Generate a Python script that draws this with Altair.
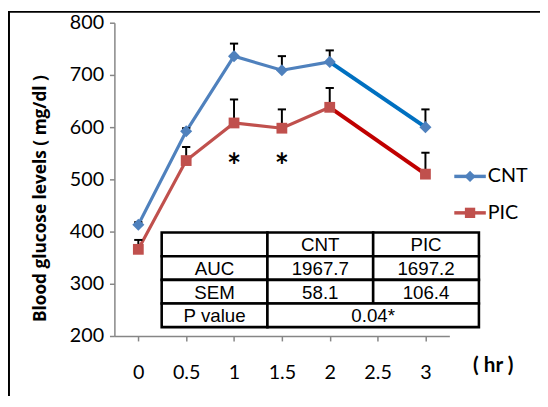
import altair as alt
import pandas as pd

# ---- data ----
hours = [0, 0.5, 1, 1.5, 2, 3]
cnt_mean = [413, 592, 736, 709, 725, 600]
cnt_upper = [418, 598, 760, 736, 747, 634]
pic_mean = [366, 536, 608, 598, 638, 510]
pic_upper = [384, 562, 653, 634, 675, 551]
series_names = ["CNT", "PIC"]
star_hours = [1, 1.5]
star_level = [541, 541]
x_ticks = [0, 0.5, 1, 1.5, 2, 2.5, 3]
y_ticks = [200, 300, 400, 500, 600, 700, 800]

table_header = ["", "CNT", "PIC"]
table_row_names = ["AUC", "SEM", "P value"]
auc_vals = ["1967.7", "1697.2"]
sem_vals = ["58.1", "106.4"]
p_value = "0.04*"

# ---- build tables ----
rows = []
for h, m, u in zip(hours, cnt_mean, cnt_upper):
    rows.append({"series": "CNT", "hour": h, "mean": m, "upper": u})
for h, m, u in zip(hours, pic_mean, pic_upper):
    rows.append({"series": "PIC", "hour": h, "mean": m, "upper": u})
df = pd.DataFrame(rows)
early = df[df["hour"] <= 2]
tail = df[df["hour"] >= 2]
stars = pd.DataFrame({"hour": star_hours, "level": star_level})

cells = []
for c, t in enumerate(table_header):
    cells.append({"c0": c, "c1": c + 1, "r": 0, "text": t})
cells.append({"c0": 0, "c1": 1, "r": 1, "text": table_row_names[0]})
cells.append({"c0": 1, "c1": 2, "r": 1, "text": auc_vals[0]})
cells.append({"c0": 2, "c1": 3, "r": 1, "text": auc_vals[1]})
cells.append({"c0": 0, "c1": 1, "r": 2, "text": table_row_names[1]})
cells.append({"c0": 1, "c1": 2, "r": 2, "text": sem_vals[0]})
cells.append({"c0": 2, "c1": 3, "r": 2, "text": sem_vals[1]})
cells.append({"c0": 0, "c1": 1, "r": 3, "text": table_row_names[2]})
cells.append({"c0": 1, "c1": 3, "r": 3, "text": p_value})
cells_df = pd.DataFrame(cells)
cells_df["r1"] = cells_df["r"] + 1
cells_df["cm"] = (cells_df["c0"] + cells_df["c1"]) / 2
cells_df["rm"] = cells_df["r"] + 0.5

FONT = "Lato"
light = ["#4F81BD", "#C0504D"]
dark = ["#0070C0", "#C00000"]

xs = alt.Scale(domain=[-0.25, 3.25], nice=False, zero=False)
ys = alt.Scale(domain=[200, 800], nice=False, zero=False)

x_enc = alt.X("hour:Q", scale=xs, axis=alt.Axis(
    values=x_ticks, labelExpr="datum.value + ''", grid=False,
    domainColor="#868686", tickColor="#868686", domainWidth=1.5, tickWidth=1.5,
    tickSize=5, labelFontSize=20, labelFont=FONT, labelColor="black",
    labelPadding=22, labelFlush=False,
    title="( hr )", titleFont=FONT, titleFontSize=21, titleFontWeight="bold",
    titleX=384, titleY=30, titleBaseline="middle", titleAlign="center",
    titleColor="black"))
y_enc = alt.Y("mean:Q", scale=ys, axis=alt.Axis(
    values=y_ticks, grid=False, domainColor="#868686", tickColor="#868686",
    domainWidth=1.5, tickWidth=1.5, tickSize=5, labelFontSize=20,
    labelFont=FONT, labelColor="black", labelPadding=6,
    title="Blood glucose levels ( mg/dl )", titleFont="Open Sans", titleFontSize=17.5,
    titleFontWeight="bold", titleColor="black", titleX=-70, titleY=178,
    titleBaseline="alphabetic", titleAlign="center", titleAngle=-90))

early_line = alt.Chart(early).mark_line(strokeWidth=3.2).encode(
    x=x_enc, y=y_enc,
    color=alt.Color("series:N", scale=alt.Scale(domain=series_names, range=light), legend=None))
tail_line = alt.Chart(tail).mark_line(strokeWidth=4).encode(
    x="hour:Q", y="mean:Q",
    stroke=alt.Stroke("series:N", scale=alt.Scale(domain=series_names, range=dark), legend=None))
err_rule = alt.Chart(df).mark_rule(color="black", strokeWidth=2).encode(
    x="hour:Q", y="mean:Q", y2="upper:Q")
err_cap = alt.Chart(df).mark_point(shape="stroke", size=70, color="black",
                                   strokeWidth=2, opacity=1).encode(
    x="hour:Q", y=alt.Y("upper:Q"))
points = alt.Chart(df).mark_point(filled=True, opacity=1).encode(
    x="hour:Q", y="mean:Q",
    color=alt.Color("series:N", scale=alt.Scale(domain=series_names, range=light), legend=None),
    shape=alt.Shape("series:N", scale=alt.Scale(domain=series_names, range=["diamond", "square"]), legend=None),
    size=alt.Size("series:N", scale=alt.Scale(domain=series_names, range=[150, 120]), legend=None))
star_text = alt.Chart(stars).mark_text(text="*", fontSize=34, fontWeight="bold",
                                       font=FONT, color="black", dy=10).encode(
    x="hour:Q", y="level:Q")

one = pd.DataFrame({"k": [0]})
legend_layers = []
leg_y = [156, 193]
leg_shape = ["diamond", "square"]
leg_size = [130, 110]
for i, name in enumerate(series_names):
    legend_layers.append(alt.Chart(one).mark_rule(color=light[i], strokeWidth=3.5).encode(
        x=alt.value(345), x2=alt.value(377), y=alt.value(leg_y[i])))
    legend_layers.append(alt.Chart(one).mark_point(filled=True, opacity=1, color=light[i],
                                                  shape=leg_shape[i], size=leg_size[i]).encode(
        x=alt.value(361), y=alt.value(leg_y[i])))
    legend_layers.append(alt.Chart(one).mark_text(text=name, fontSize=20, font=FONT,
                                                 align="left", baseline="middle", color="black").encode(
        x=alt.value(379), y=alt.value(leg_y[i])))

frame_top = alt.Chart(one).mark_rule(color="black", strokeWidth=2).encode(
    x=alt.value(-108), x2=alt.value(432), y=alt.value(-11))
frame_left = alt.Chart(one).mark_rule(color="black", strokeWidth=2).encode(
    x=alt.value(-107), y=alt.value(-12), y2=alt.value(379))

main = alt.layer(early_line, tail_line, err_rule, err_cap, points, star_text,
                 *legend_layers, frame_top, frame_left)

tx = alt.Scale(domain=[0, 3], range=[48, 370], nice=False, zero=False)
ty = alt.Scale(domain=[0, 4], range=[213, 309], nice=False, zero=False)
table_rect = alt.Chart(cells_df).mark_rect(fill="white", stroke="black", strokeWidth=2.6).encode(
    x=alt.X("c0:Q", scale=tx, axis=None), x2="c1:Q",
    y=alt.Y("r:Q", scale=ty, axis=None), y2="r1:Q")
table_text = alt.Chart(cells_df).mark_text(font="Liberation Sans", fontSize=19,
                                           color="black", baseline="middle", dy=1).encode(
    x=alt.X("cm:Q", scale=tx, axis=None), y=alt.Y("rm:Q", scale=ty, axis=None), text="text:N")
table = alt.layer(table_rect, table_text)

chart = alt.layer(main, table).resolve_scale(
    x="independent", y="independent"
).properties(
    width=340, height=318,
    autosize=alt.AutoSizeParams(type="none"),
    padding={"left": 108, "top": 12, "right": 92, "bottom": 61},
).configure_view(stroke=None)

chart.save("out.html", embed_options={"renderer": "svg", "actions": False})
